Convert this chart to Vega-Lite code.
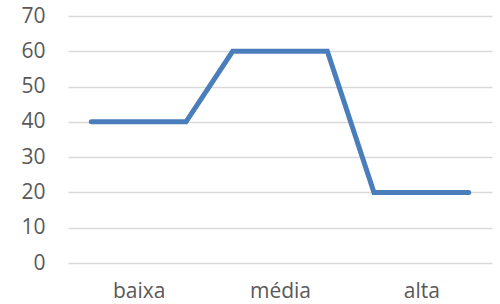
{
  "$schema": "https://vega.github.io/schema/vega-lite/v6.json",
  "width": 424,
  "height": 247,
  "autosize": "none",
  "padding": {"left": 68, "top": 16, "right": 8, "bottom": 41},
  "background": "white",
  "config": {
    "view": {"stroke": null},
    "axis": {"labelFont": "Open Sans", "labelFontSize": 21, "labelColor": "#595959", "title": null}
  },
  "data": {
    "values": [
      {"x": 0.33, "v": 40},
      {"x": 1.67, "v": 40},
      {"x": 2.33, "v": 60},
      {"x": 3.67, "v": 60},
      {"x": 4.33, "v": 20},
      {"x": 5.67, "v": 20}
    ]
  },
  "mark": {"type": "line", "color": "#4a7ebb", "strokeWidth": 5, "strokeCap": "round", "strokeJoin": "miter"},
  "encoding": {
    "x": {
      "field": "x",
      "type": "quantitative",
      "scale": {"domain": [0, 6], "nice": false, "zero": false},
      "axis": {
        "values": [1, 3, 5],
        "labelExpr": "datum.value == 1 ? 'baixa' : datum.value == 3 ? 'média' : 'alta'",
        "grid": false,
        "domain": false,
        "ticks": false,
        "labelPadding": 17,
        "labelFlush": false
      }
    },
    "y": {
      "field": "v",
      "type": "quantitative",
      "scale": {"domain": [0, 70], "nice": false},
      "axis": {
        "values": [0, 10, 20, 30, 40, 50, 60, 70],
        "grid": true,
        "gridColor": "#d9d9d9",
        "gridWidth": 1.5,
        "domain": false,
        "ticks": false,
        "labelPadding": 23
      }
    }
  }
}
